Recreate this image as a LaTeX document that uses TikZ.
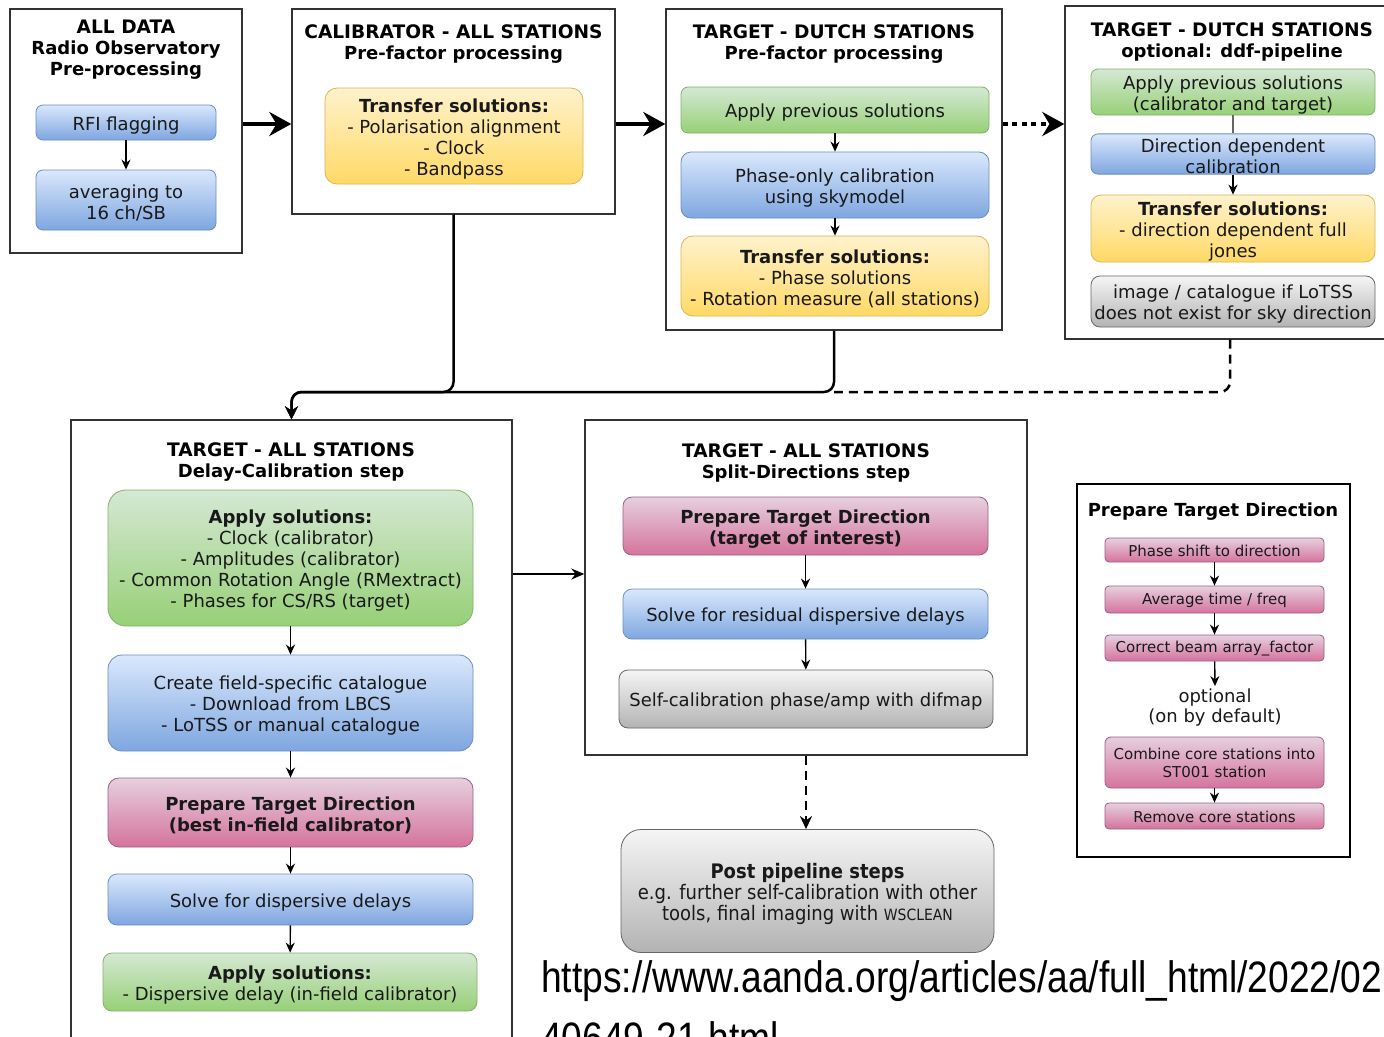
\documentclass[tikz,border=0pt]{standalone}
\usepackage{fontspec}
\setmainfont{DejaVu Sans}
\newfontfamily\condfont{DejaVu Sans Condensed}
\newfontfamily\urlfont[FakeStretch=0.845]{Liberation Sans}
\usetikzlibrary{arrows.meta}

\definecolor{bluetop}{HTML}{DAE8FC}\definecolor{bluebot}{HTML}{7EA6E0}\definecolor{bluedraw}{HTML}{6C8EBF}
\definecolor{greentop}{HTML}{D5E8D4}\definecolor{greenbot}{HTML}{97D077}\definecolor{greendraw}{HTML}{82B366}
\definecolor{yellowtop}{HTML}{FFF2CC}\definecolor{yellowbot}{HTML}{FFD966}\definecolor{yellowdraw}{HTML}{D6B656}
\definecolor{pinktop}{HTML}{E6D0DE}\definecolor{pinkbot}{HTML}{D5739D}\definecolor{pinkdraw}{HTML}{996185}
\definecolor{graytop}{HTML}{F5F5F5}\definecolor{graybot}{HTML}{B3B3B3}\definecolor{graydraw}{HTML}{666666}

\newcommand{\bodyfont}{\fontsize{18}{21}\selectfont}
\newcommand{\smallbody}{\fontsize{15}{18}\selectfont}
% all-caps heading lines are set a touch wider
\newcommand{\capsline}[1]{{\fontsize{18.6}{21}\selectfont #1}}
% invisible struts that lower the first line of a card's text a little
\newcommand{\fs}{\rule{0pt}{19pt}}
\newcommand{\fss}{\rule{0pt}{12.5pt}}

\tikzset{
  frame/.style={draw=black!80, line width=1.4pt, fill=white, inner sep=0pt},
  titletext/.style={font=\bodyfont\bfseries, align=center, inner sep=0pt, text=black},
  cardbase/.style={rounded corners=7pt, line width=0.8pt, inner sep=0pt, align=center, text=black!90},
  card/.style={cardbase, font=\bodyfont},
  bluefill/.style={draw=bluedraw, top color=bluetop, bottom color=bluebot},
  greenfill/.style={draw=greendraw, top color=greentop, bottom color=greenbot},
  yellowfill/.style={draw=yellowdraw, top color=yellowtop, bottom color=yellowbot},
  pinkfill/.style={draw=pinkdraw, top color=pinktop, bottom color=pinkbot},
  grayfill/.style={draw=graydraw, top color=graytop, bottom color=graybot},
  bluecard/.style={card, bluefill},
  greencard/.style={card, greenfill},
  yellowcard/.style={card, yellowfill},
  pinkcard/.style={card, pinkfill},
  graycard/.style={card, grayfill},
  minicard/.style={cardbase, pinkfill, rounded corners=4pt, font=\smallbody, minimum width=219pt},
  flow/.style={-{Stealth[length=10pt,width=9pt]}, line width=1.4pt, black},
  bigarrow/.style={-{Stealth[length=22pt,width=24pt]}, line width=4pt, black},
  merge/.style={-{Stealth[length=13pt,width=13pt]}, line width=2.5pt, black, rounded corners=10pt},
  dashmerge/.style={line width=2.5pt, black, dash pattern=on 9pt off 6pt, rounded corners=10pt},
  dashflow/.style={-{Stealth[length=13pt,width=12pt]}, line width=2.5pt, black, dash pattern=on 9pt off 6pt},
  sideflow/.style={-{Stealth[length=13pt,width=11pt]}, line width=2pt, black},
}

\begin{document}
\begin{tikzpicture}[x=1pt,y=-1pt]
\useasboundingbox (0,0) rectangle (1384,1036);
\fill[white] (0,0) rectangle (1384,1036);
\clip (0,0) rectangle (1384,1036);

\coordinate (rowA) at (0,124);
\coordinate (rowB) at (0,574);
\coordinate (mergeY) at (0,392);

% --- all data: pre-processing
\node[frame, minimum width=232pt, minimum height=244pt] (b1) at (126,131) {};
\node[titletext] (t1) at (126,50) {\capsline{ALL DATA}\\Radio Observatory\\Pre-processing};
\node[bluecard, minimum width=180pt, minimum height=35pt] (rfi) at (126,122.5) {\fs RFI flagging};
\node[bluecard, minimum width=180pt, minimum height=60pt] (avg) at (126,200) {\fs averaging to\\16 ch/SB};
\draw[flow] (rfi) -- (avg);

% --- calibrator
\node[frame, minimum width=323pt, minimum height=205pt] (b2) at (453.5,111.5) {};
\node[titletext] (t2) at (453.5,44.5) {\capsline{CALIBRATOR - ALL STATIONS}\\Pre-factor processing};
\node[yellowcard, rounded corners=12pt, minimum width=258pt, minimum height=96pt] (tr1) at (454,136)
  {\fs\textbf{Transfer solutions:}\\- Polarisation alignment\\- Clock\\- Bandpass};

% --- target, Dutch stations, pre-factor
\node[frame, minimum width=336pt, minimum height=321pt] (b3) at (834,169.5) {};
\node[titletext] (t3) at (834,44) {\capsline{TARGET - DUTCH STATIONS}\\Pre-factor processing};
\node[greencard, minimum width=308pt, minimum height=46pt] (ap1) at (835,110) {\fs Apply previous solutions};
\node[bluecard, rounded corners=10pt, minimum width=308pt, minimum height=66pt] (ph1) at (835,185) {\fs Phase-only calibration\\using skymodel};
\node[yellowcard, rounded corners=12pt, minimum width=308pt, minimum height=80pt] (tr2) at (835,276)
  {\fs\textbf{Transfer solutions:}\\- Phase solutions\\- Rotation measure (all stations)};
\draw[flow] (ap1) -- (ph1);
\draw[flow] (ph1) -- (tr2);

% --- target, Dutch stations, ddf-pipeline
\node[frame, minimum width=330pt, minimum height=333pt] (b4) at (1230,172.5) {};
\node[titletext] (t4) at (1232,41.5) {\capsline{TARGET - DUTCH STATIONS}\\optional: ddf-pipeline};
\node[greencard, minimum width=284pt, minimum height=46pt] (ap2) at (1233,92) {\fs Apply previous solutions\\(calibrator and target)};
\node[bluecard, minimum width=284pt, minimum height=40pt] (dd) at (1233,154) {\fs Direction dependent\\calibration};
\node[yellowcard, rounded corners=10pt, minimum width=284pt, minimum height=67pt] (tr3) at (1233,228.5)
  {\fs\textbf{Transfer solutions:}\\- direction dependent full\\jones};
\node[graycard, rounded corners=9pt, minimum width=284pt, minimum height=51pt] (img) at (1233,301.5)
  {\fs image / catalogue if LoTSS\\does not exist for sky direction};
\draw[line width=1.2pt, black!60] (ap2) -- (dd);
\draw[flow] (dd) -- (tr3);

% --- links along the top row
\draw[bigarrow] (b1.east |- rowA) -- (b2.west |- rowA);
\draw[bigarrow] (b2.east |- rowA) -- (b3.west |- rowA);
\draw[bigarrow, dash pattern=on 5pt off 4.5pt] (b3.east |- rowA) -- (b4.west |- rowA);

% --- target, all stations, delay calibration
\node[frame, minimum width=441pt, minimum height=630pt] (b5) at (291.5,735) {};
\node[titletext] (t5) at (291,462.5) {\capsline{TARGET - ALL STATIONS}\\Delay-Calibration step};
\node[greencard, rounded corners=18pt, minimum width=365pt, minimum height=136pt] (as1) at (290.5,558)
  {\fs\textbf{Apply solutions:}\\- Clock (calibrator)\\- Amplitudes (calibrator)\\- Common Rotation Angle (RMextract)\\- Phases for CS/RS (target)};
\node[bluecard, rounded corners=14pt, minimum width=365pt, minimum height=96pt] (cat) at (290.5,703)
  {\fs Create field-specific catalogue\\- Download from LBCS\\- LoTSS or manual catalogue};
\node[pinkcard, rounded corners=11pt, minimum width=365pt, minimum height=69pt] (ptd1) at (290.5,812.5)
  {\fs\textbf{Prepare Target Direction}\\\textbf{(best in-field calibrator)}};
\node[bluecard, rounded corners=9pt, minimum width=365pt, minimum height=51pt] (sdd) at (290.5,899.5) {\fs Solve for dispersive delays};
\node[greencard, rounded corners=9pt, minimum width=374pt, minimum height=58pt] (as2) at (290,982)
  {\fs\textbf{Apply solutions:}\\- Dispersive delay (in-field calibrator)};
\draw[flow] (as1) -- (cat);
\draw[flow] (cat) -- (ptd1);
\draw[flow] (ptd1) -- (sdd);
\draw[flow] (sdd) -- (as2);

% --- target, all stations, split directions
\node[frame, minimum width=442pt, minimum height=335pt] (b6) at (806,587.5) {};
\node[titletext] (t6) at (806,462.5) {\capsline{TARGET - ALL STATIONS}\\Split-Directions step};
\node[pinkcard, rounded corners=9pt, minimum width=365pt, minimum height=58pt] (ptd2) at (805.5,526)
  {\fs\textbf{Prepare Target Direction}\\\textbf{(target of interest)}};
\node[bluecard, rounded corners=9pt, minimum width=365pt, minimum height=50pt] (srd) at (805.5,614) {\fs Solve for residual dispersive delays};
\node[graycard, rounded corners=9pt, minimum width=374pt, minimum height=58pt] (scal) at (806,699) {\fs Self-calibration phase/amp with difmap};
\draw[flow] (ptd2) -- (srd);
\draw[flow] (srd) -- (scal);

% --- post pipeline
\node[cardbase, grayfill, rounded corners=20pt, minimum width=373pt, minimum height=123pt,
      font=\condfont\fontsize{20}{21}\selectfont] (post) at (807.5,891)
  {\rule{0pt}{21.5pt}\textbf{Post pipeline steps}\\e.g. further self-calibration with other\\tools, final imaging with {\fontsize{15.5}{16}\selectfont WSCLEAN}};

% --- prepare target direction, detail
\node[frame, draw=black, line width=2.5pt, minimum width=273pt, minimum height=373pt] (b7) at (1213.5,670.5) {};
\node[titletext] (t7) at (1213,512) {Prepare Target Direction};
\node[minicard, minimum height=24pt] (ps) at (1214.5,550) {\fss Phase shift to direction};
\node[minicard, minimum height=27pt] (at) at (1214.5,599.5) {\fss Average time / freq};
\node[minicard, minimum height=26pt] (cb) at (1214.5,648) {\fss Correct beam array\_factor};
\node[font=\fontsize{18}{20}\selectfont, align=center, inner sep=0pt, text=black!90] (opt) at (1215,708) {optional\\(on by default)};
\node[minicard, rounded corners=6pt, minimum height=51pt] (cc) at (1214.5,762.5) {\fss Combine core stations into\\ST001 station};
\node[minicard, minimum height=26pt] (rc) at (1214.5,816) {\fss Remove core stations};
\draw[flow] (ps) -- (at);
\draw[flow] (at) -- (cb);
\draw[flow] (cb) -- ([yshift=3pt]opt.north);
\draw[flow] (cc) -- (rc);

% --- links between the stages
\draw[merge] (b2.south) |- (mergeY -| b5.north) -- (b5.north);
\draw[merge] (b3.south) |- (mergeY -| b5.north) -- (b5.north);
\draw[dashmerge] (b4.south) |- (mergeY -| b3.south);
\draw[sideflow] (b5.east |- rowB) -- (b6.west |- rowB);
\draw[dashflow] (b6.south) -- (b6.south |- post.north);

% --- source link
\node[anchor=base west, inner sep=0pt, font=\urlfont\fontsize{44}{50}\selectfont] (url1) at (541,992)
  {https://www.aanda.org/articles/aa/full\_html/2022/02};
\node[anchor=base west, inner sep=0pt, font=\urlfont\fontsize{44}{50}\selectfont] (url2) at (541,1053)
  {40649-21.html};
\end{tikzpicture}
\end{document}
